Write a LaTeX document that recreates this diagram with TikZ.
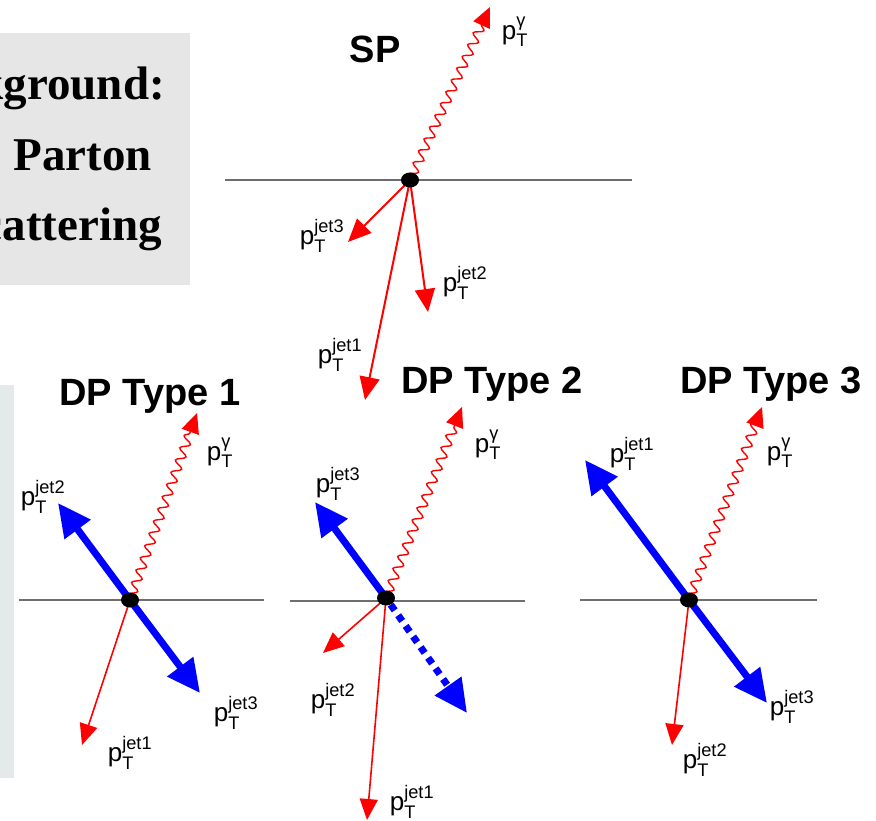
\documentclass[tikz,border=0pt]{standalone}
\usepackage{fontspec}
\usepackage{amsmath}
\setmainfont{Liberation Serif}
\setsansfont{Liberation Sans}
\usetikzlibrary{arrows.meta,decorations.pathmorphing,shapes.geometric,calc}
\pgfdeclarelayer{back}
\pgfdeclarelayer{bg}
\pgfsetlayers{back,bg,main}
\definecolor{boxgray}{HTML}{E6E6E6}
\definecolor{boxblue}{HTML}{E4E9E9}
\definecolor{pred}{HTML}{FF0000}
\definecolor{pblue}{HTML}{0000FF}
\definecolor{axisgray}{HTML}{6E6E6E}
\newcommand{\ptlab}[1]{p$^{\text{#1}}_{\text{T}}$}
\tikzset{
  vtx/.style={ellipse, fill=black, minimum width=18pt, minimum height=15pt, inner sep=0pt},
  axisline/.style={draw=axisgray, line width=1.4pt},
  jetR/.style={draw=pred, line width=2pt, -{Triangle[length=23pt,width=20pt]}},
  jetRs/.style={draw=pred, line width=1.6pt, -{Triangle[length=21pt,width=18pt]}},
  jetB/.style={draw=pblue, line width=7pt, -{Triangle[length=33pt,width=31pt]}},
  jetBd/.style={draw=pblue, line width=7pt, dash pattern=on 7pt off 6pt, -{Triangle[length=33pt,width=31pt]}},
  photon/.style={draw=pred, line width=1.4pt, decorate, decoration={snake, segment length=13pt, amplitude=4.5pt}},
  phead/.style={draw=pred, line width=1.4pt, -{Triangle[length=20pt,width=18pt]}},
  title/.style={font=\fontsize{38}{40}\selectfont\sffamily\bfseries, anchor=base, inner sep=0pt},
  lab/.style={font=\fontsize{26}{28}\selectfont\sffamily, inner sep=0pt},
  boxtext/.style={font=\fontsize{47}{50}\selectfont\rmfamily\bfseries, anchor=base east, inner sep=0pt}
}
\begin{document}
\begin{tikzpicture}[x=1pt,y=-1pt]
\useasboundingbox (0,0) rectangle (876,821);
% background boxes
\begin{pgfonlayer}{back}
  \fill[boxgray] (0,33) rectangle (190,285);
  \fill[boxblue] (0,385) rectangle (14,778);
\end{pgfonlayer}
\begin{scope}
  \clip (0,33) rectangle (190,285);
  \node[boxtext] (t1) at (165,100) {Background:};
  \node[boxtext] (t2) at (152,171) {Parton};
  \node[boxtext] (t3) at (162,241) {Scattering};
\end{scope}

% titles
\node[title] (sp) at (375,63) {SP};
\node[title] (dp1) at (150,405) {DP Type 1};
\node[title] (dp2) at (492,393) {DP Type 2};
\node[title] (dp3) at (771,393) {DP Type 3};

% ---------- SP ----------
\coordinate (spL) at (225,180);
\coordinate (spR) at (632,180);
\node[vtx] (spv) at (410,180) {};
\coordinate (spg) at (490,7);
\coordinate (spj3) at (348,242);
\coordinate (spj2) at (428,312);
\coordinate (spj1) at (365,400);
\begin{pgfonlayer}{bg}
  \draw[axisline, draw=gray!85!black] (spL) -- (spR);
  \draw[photon] (spv.center) -- ($(spg)!18pt!(spv)$);
  \draw[phead] ($(spg)!20pt!(spv)$) -- (spg);
  \draw[jetR] (spv.center) -- (spj3);
  \draw[jetR] (spv.center) -- (spj2);
  \draw[jetR] (spv.center) -- (spj1);
\end{pgfonlayer}
\node[lab] (spgl) at (515,32) {\ptlab{γ}};
\node[lab] (spj3l) at (322,236) {\ptlab{jet3}};
\node[lab] (spj2l) at (465,283) {\ptlab{jet2}};
\node[lab] (spj1l) at (340,355) {\ptlab{jet1}};

% ---------- DP Type 1 ----------
\coordinate (d1L) at (19,600);
\coordinate (d1R) at (264,600);
\node[vtx] (d1v) at (130,600) {};
\coordinate (d1g) at (197,413);
\coordinate (d1bu) at (58,503);
\coordinate (d1bd) at (200,693);
\coordinate (d1j1) at (82,745);
\begin{pgfonlayer}{bg}
  \draw[axisline] (d1L) -- (d1R);
  \draw[photon] (d1v.center) -- ($(d1g)!16pt!(d1v)$);
  \draw[phead] ($(d1g)!18pt!(d1v)$) -- (d1g);
  \draw[jetB] (d1v.center) -- (d1bu);
  \draw[jetB] (d1v.center) -- (d1bd);
  \draw[jetRs] (d1v.center) -- (d1j1);
\end{pgfonlayer}
\node[lab] (d1gl) at (220,453) {\ptlab{γ}};
\node[lab] (d1j2l) at (43,497) {\ptlab{jet2}};
\node[lab] (d1j1l) at (130,753) {\ptlab{jet1}};
\node[lab] (d1j3l) at (236,713) {\ptlab{jet3}};

% ---------- DP Type 2 ----------
\coordinate (d2L) at (290,601);
\coordinate (d2R) at (525,601);
\node[vtx] (d2v) at (386,598) {};
\coordinate (d2g) at (462,407);
\coordinate (d2bu) at (315,502);
\coordinate (d2bd) at (467,713);
\coordinate (d2j2) at (323,653);
\coordinate (d2j1) at (367,820);
\begin{pgfonlayer}{bg}
  \draw[axisline, line width=2pt] (d2L) -- (d2R);
  \draw[photon] (d2v.center) -- ($(d2g)!16pt!(d2v)$);
  \draw[phead] ($(d2g)!18pt!(d2v)$) -- (d2g);
  \draw[jetB] (d2v.center) -- (d2bu);
  \draw[jetBd] (d2v) -- (d2bd);
  \draw[jetRs] (d2v.center) -- (d2j2);
  \draw[jetRs] (d2v.center) -- (d2j1);
\end{pgfonlayer}
\node[lab] (d2gl) at (488,445) {\ptlab{γ}};
\node[lab] (d2j3l) at (338,484) {\ptlab{jet3}};
\node[lab] (d2j2l) at (333,700) {\ptlab{jet2}};
\node[lab] (d2j1l) at (412,802) {\ptlab{jet1}};

% ---------- DP Type 3 ----------
\coordinate (d3L) at (580,600);
\coordinate (d3R) at (817,600);
\node[vtx] (d3v) at (689,600) {};
\coordinate (d3g) at (762,407);
\coordinate (d3bu) at (585,460);
\coordinate (d3bd) at (767,703);
\coordinate (d3j2) at (672,745);
\begin{pgfonlayer}{bg}
  \draw[axisline] (d3L) -- (d3R);
  \draw[photon] (d3v.center) -- ($(d3g)!16pt!(d3v)$);
  \draw[phead] ($(d3g)!18pt!(d3v)$) -- (d3g);
  \draw[jetB] (d3v.center) -- (d3bu);
  \draw[jetB] (d3v.center) -- (d3bd);
  \draw[jetRs] (d3v.center) -- (d3j2);
\end{pgfonlayer}
\node[lab] (d3gl) at (780,453) {\ptlab{γ}};
\node[lab] (d3j1l) at (632,454) {\ptlab{jet1}};
\node[lab] (d3j3l) at (792,707) {\ptlab{jet3}};
\node[lab] (d3j2l) at (705,760) {\ptlab{jet2}};
\end{tikzpicture}
\end{document}
